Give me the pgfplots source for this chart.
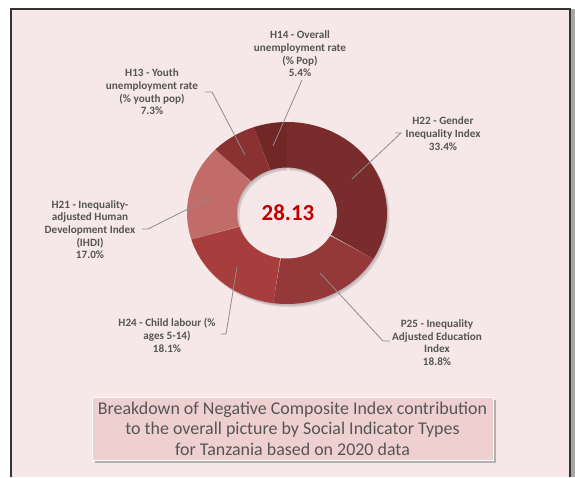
\documentclass[border=0pt]{standalone}
\usepackage{pgfplots}
\pgfplotsset{compat=1.18}
\usepackage{fontspec}
\setmainfont{Carlito}
\definecolor{bg}{HTML}{F6E8E8}
\definecolor{cA}{HTML}{7A2B2B}
\definecolor{cB}{HTML}{953839}
\definecolor{cC}{HTML}{A83D3D}
\definecolor{cD}{HTML}{C26C6A}
\definecolor{cE}{HTML}{8A3232}
\definecolor{cF}{HTML}{722727}
\definecolor{lbl}{HTML}{555555}
\definecolor{boxfill}{HTML}{EFD0D1}
\definecolor{num}{HTML}{C00000}
\definecolor{leader}{HTML}{8C8C8C}
\newcommand\CX{287}
\newcommand\CY{213}
\newcommand\RX{100}
\newcommand\RY{91}
\newcommand\HOLE{0.5}
% #1 = cumulative share before the slice (%), #2 = share of the slice (%), #3 = style
\newcommand{\donutslice}[3]{%
  \addplot[#3, draw=none, domain=0:2, samples=161, variable=\t]
  ({\CX + \RX*(\t<1.0001 ? 1 : \HOLE)*cos(\t<1.0001 ? 90-3.6*(#1)-3.6*(#2)*\t : 90-3.6*(#1)-3.6*(#2)*(2-\t))},
   {\CY - \RY*(\t<1.0001 ? 1 : \HOLE)*sin(\t<1.0001 ? 90-3.6*(#1)-3.6*(#2)*\t : 90-3.6*(#1)-3.6*(#2)*(2-\t))});
}
\begin{document}
\begin{tikzpicture}
\begin{axis}[scale only axis, width=575bp, height=477bp,
  xmin=0, xmax=575, ymin=0, ymax=477, y dir=reverse,
  hide axis, clip=false]
% background and frame
\fill[white] (axis cs:0,0) rectangle (axis cs:575,477);
\fill[bg] (axis cs:11,9) rectangle (axis cs:570,477);
\fill[gray!70] (axis cs:571,9) rectangle (axis cs:575,477);
\draw[black!80, line width=1.4bp] (axis cs:11,477) -- (axis cs:11,9) -- (axis cs:570,9) -- (axis cs:570,477);
% soft shadow of the ring
\renewcommand\CX{289.5}\renewcommand\CY{216}
\donutslice{0}{50}{fill=black, fill opacity=0.12}
\donutslice{50}{50}{fill=black, fill opacity=0.12}
\renewcommand\CX{288}\renewcommand\CY{214.5}
\donutslice{0}{50}{fill=black, fill opacity=0.10}
\donutslice{50}{50}{fill=black, fill opacity=0.10}
\renewcommand\CX{287}\renewcommand\CY{213}
% donut: H22 33.4, P25 18.8, H24 18.1, H21 17.0, H13 7.3, H14 5.4
\donutslice{0}{33.4}{fill=cA}
\donutslice{33.4}{18.8}{fill=cB}
\donutslice{52.2}{18.1}{fill=cC}
\donutslice{70.3}{17.0}{fill=cD}
\donutslice{87.3}{7.3}{fill=cE}
\donutslice{94.6}{5.4}{fill=cF}
% leader lines
\addplot[leader, line width=0.8bp] coordinates {(302,80) (273,146)};
\addplot[leader, line width=0.8bp] coordinates {(205,92) (212,92) (245,155)};
\addplot[leader, line width=0.8bp] coordinates {(395,133) (401,133) (352,179)};
\addplot[leader, line width=0.8bp] coordinates {(142,229) (148,229) (212,197)};
\addplot[leader, line width=0.8bp] coordinates {(221,334) (226,334) (237,267)};
\addplot[leader, line width=0.8bp] coordinates {(320,273) (383,341) (390,341)};
% labels
\begin{scope}[every node/.style={align=center, text=lbl, font=\fontsize{11.2}{12.7}\selectfont\bfseries, inner sep=0pt}]
\node at (axis cs:300,54) {H14 - Overall\\unemployment rate\\(\% Pop)\\5.4\%};
\node at (axis cs:152,92) {H13 - Youth\\unemployment rate\\(\% youth pop)\\7.3\%};
\node at (axis cs:443,133.5) {H22 - Gender\\Inequality Index\\33.4\%};
\node at (axis cs:90,229.5) {H21 - Inequality-\\adjusted Human\\Development Index\\(IHDI)\\17.0\%};
\node at (axis cs:167,335.5) {H24 - Child labour (\%\\ages 5-14)\\18.1\%};
\node at (axis cs:437,342.5) {P25 - Inequality\\Adjusted Education\\Index\\18.8\%};
\end{scope}
\node[text=num, font=\fontsize{23}{26}\selectfont\bfseries] at (axis cs:288,213) {28.13};
% title box
\fill[gray!60] (axis cs:95,400) rectangle (axis cs:496,463);
\filldraw[fill=boxfill, draw=white!85!boxfill, line width=0.6bp] (axis cs:92,397) rectangle (axis cs:493,460);
\node[align=center, text=lbl, font=\fontsize{18}{20.5}\selectfont] at (axis cs:292.5,428.5)
  {Breakdown of Negative Composite Index contribution\\to the overall picture by Social Indicator Types\\for Tanzania based on 2020 data};
\end{axis}
\end{tikzpicture}
\end{document}
